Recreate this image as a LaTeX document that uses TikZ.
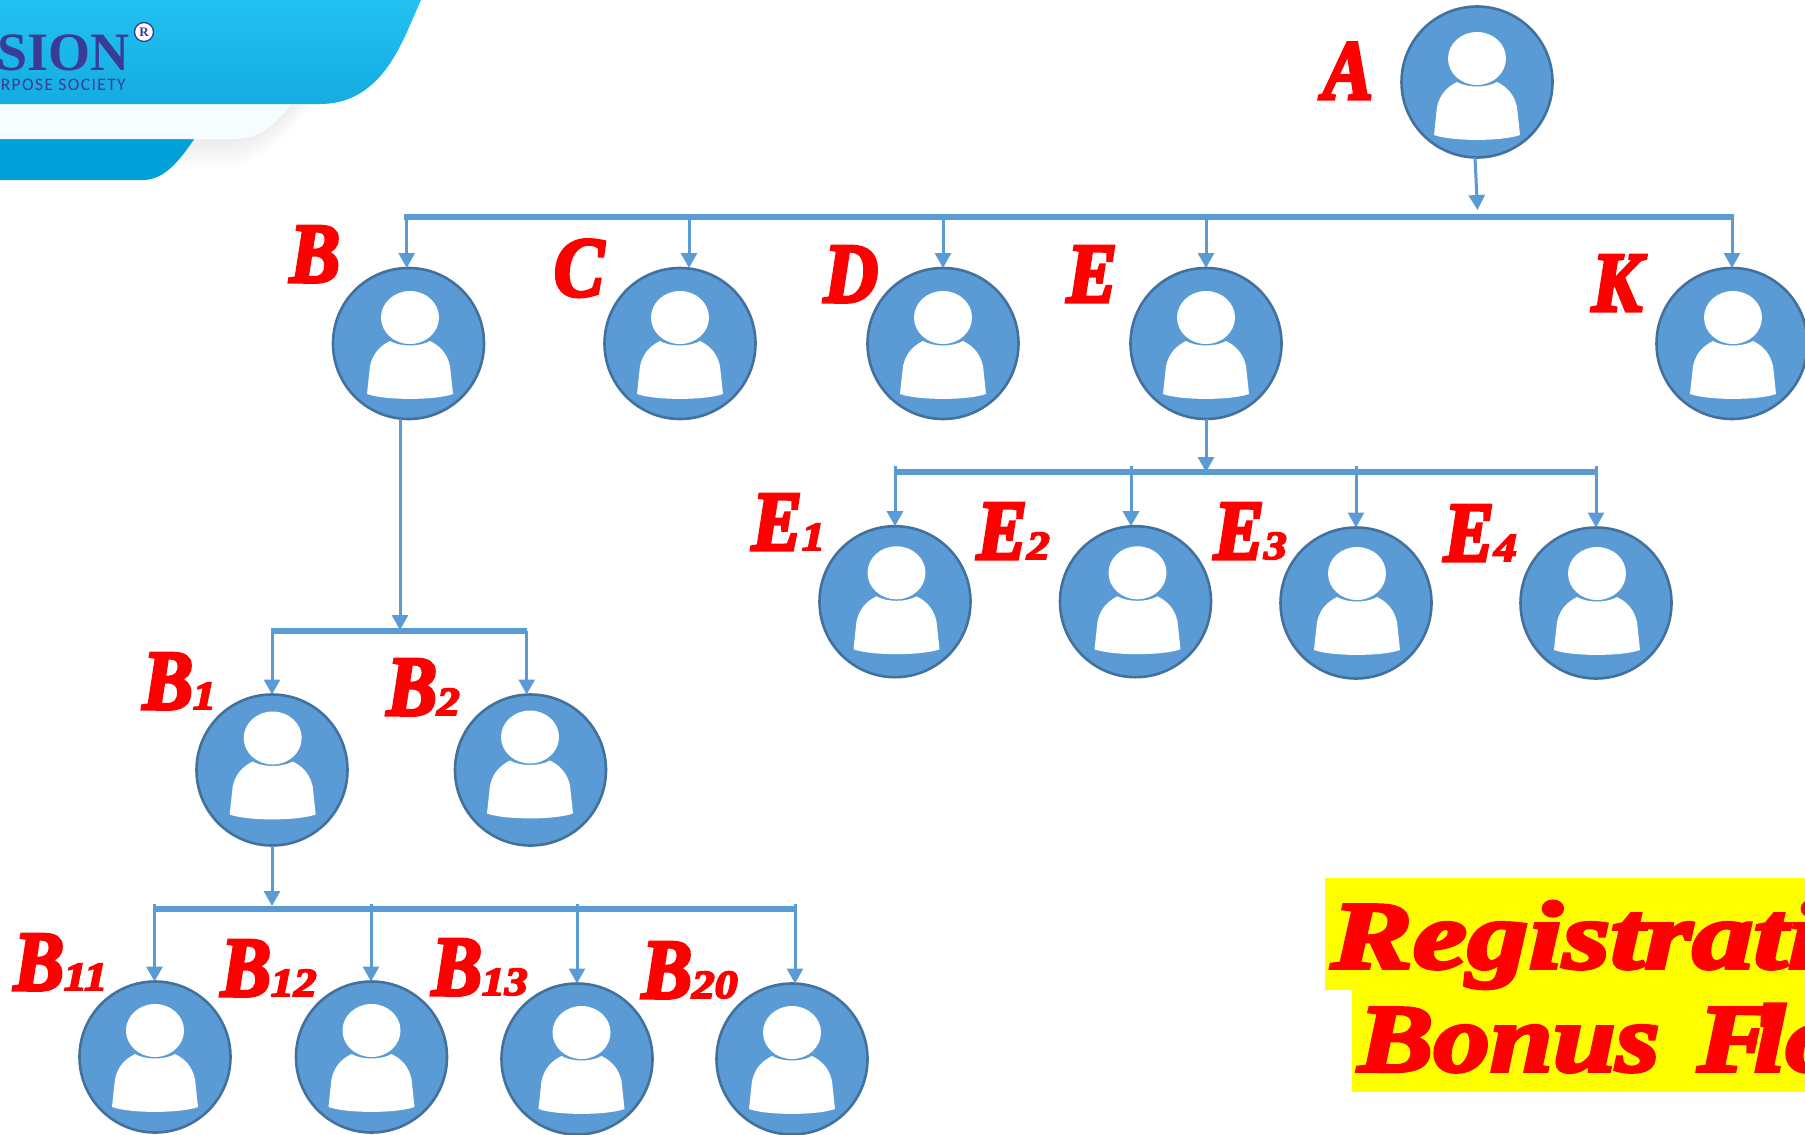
\documentclass[tikz,border=0pt]{standalone}
\usepackage{fontspec}
\usetikzlibrary{arrows.meta,shapes.geometric}
\newfontfamily\lblfont[BoldItalicFont={Liberation Serif Bold Italic},BoldItalicFeatures={FakeBold=4,FakeStretch=0.88}]{Liberation Serif}
\newfontfamily\ttlfont[BoldItalicFont={Liberation Serif Bold Italic},BoldItalicFeatures={FakeBold=4,FakeStretch=1.24}]{Liberation Serif}
\newfontfamily\logofont{Liberation Serif}
\newfontfamily\tagfont{Carlito}
\definecolor{pfill}{HTML}{5B9BD5}
\definecolor{pedge}{HTML}{41719C}
\definecolor{logoblue}{HTML}{3B3A94}
\definecolor{ttlyellow}{HTML}{FFFF00}
\definecolor{lblred}{HTML}{FF0000}
\newcommand{\Lb}[2]{{\fontsize{85}{85}\selectfont\lblfont\bfseries\itshape #1{\fontsize{40}{40}\selectfont\scalebox{1.3}[1]{#2}}}}
\tikzset{
  personnode/.style={circle,draw=pedge,fill=pfill,line width=2.6pt,minimum size=151pt,inner sep=0pt,outer sep=0pt},
  arr/.style={draw=pfill,line width=3pt,-{Triangle[width=16pt,length=15pt]},shorten >=0pt},
  bar/.style={draw=pfill,line width=6pt},
  lbl/.style={text=lblred,anchor=base west,inner sep=0pt,outer sep=0pt},
  ttl/.style={text=lblred,anchor=base west,inner sep=0pt,outer sep=0pt,font={\fontsize{96}{96}\selectfont\ttlfont\bfseries\itshape}}
}
% name, x, y, icon dx, icon dy
\newcommand{\person}[5]{%
  \node[personnode] (#1) at (#2,#3) {};
  \begin{scope}[shift={(#2+#4,#3+#5)}]
    \fill[white] (0,-23.5) ellipse [x radius=29,y radius=26.5];
    \fill[white] (-43,53) -- (-40,25) .. controls (-37,12) and (-30,5) .. (-20,0)
      .. controls (-10,6) and (10,6) .. (20,0)
      .. controls (30,5) and (37,12) .. (40,25) -- (43,53)
      .. controls (25,59.5) and (-25,59.5) .. (-43,53) -- cycle;
  \end{scope}}
\begin{document}
\begin{tikzpicture}[x=1pt,y=-1pt]
\useasboundingbox (0,0) rectangle (1805,1135);
\clip (0,0) rectangle (1805,1135);
% logo
\fill[white] (0,0) rectangle (1805,1135);
\foreach \dd in {0,3,...,27}{
  \fill[black,opacity=0.008] (100,120) -- (293+\dd*0.7,104) .. controls (270+\dd*0.7,130+\dd*0.4) and (250,139+\dd) .. (230,139+\dd*1.1) -- (150,139+\dd*1.1) -- cycle;
}
\fill[color={rgb,255:red,0;green,160;blue,216}] (0,135) -- (197,135) .. controls (180,160) and (165,180) .. (143,180) -- (0,180) -- cycle;
\fill[color={rgb,255:red,245;green,253;blue,255}] (0,100) -- (295,100) .. controls (275,125) and (260,139) .. (235,139) -- (0,139) -- cycle;
\shade[top color={rgb,255:red,34;green,193;blue,241},bottom color={rgb,255:red,20;green,172;blue,226}]
  (0,0) -- (421,0) -- (410,25) .. controls (395,60) and (372,104) .. (320,104) -- (0,104) -- cycle;
\node[anchor=base east,inner sep=0pt,text=logoblue,font={\fontsize{54}{54}\selectfont\logofont\bfseries}] (logo) at (130,70) {SION};
\node[anchor=base east,inner sep=0pt,text=logoblue,font={\fontsize{17.5}{17.5}\selectfont\tagfont}] (tag) at (126,90) {\addfontfeatures{LetterSpace=8}RPOSE SOCIETY};
\node[circle,draw=logoblue,fill=white,line width=1.3pt,minimum size=19pt,inner sep=0pt,text=logoblue,font={\fontsize{13}{13}\selectfont\logofont\bfseries}] (reg) at (144,32) {R};
% people
\person{A}{1477}{82}{0}{0}
\person{B}{408.5}{343.5}{1.5}{-2.5}
\person{C}{680}{343.5}{0}{-2.5}
\person{D}{943}{343.5}{0}{-2.5}
\person{E}{1206}{343.5}{0}{-2.5}
\person{K}{1732}{343.5}{1}{-2.5}
\person{Ea}{895}{601.7}{1.5}{-5.4}
\person{Eb}{1135.5}{601.7}{2}{-5.4}
\person{Ec}{1356}{603}{1}{-6}
\person{Ed}{1596}{603}{1}{-6}
\person{Ba}{272}{770}{0.7}{-8.5}
\person{Bb}{530.5}{770}{-0.5}{-9.5}
\person{Baa}{155}{1057}{0}{-3}
\person{Bab}{371.5}{1057}{0}{-3}
\person{Bac}{577}{1059}{4.5}{-3}
\person{Bad}{792}{1059}{0}{-3}
% bars
\coordinate (t1) at (404,217); \coordinate (t2) at (1734,217);
\coordinate (e1) at (894,472); \coordinate (e2) at (1597,472);
\coordinate (b1) at (271,631); \coordinate (b2) at (527,631);
\coordinate (c1) at (153,909); \coordinate (c2) at (796,909);
\draw[bar] (t1) -- (t2);
\draw[bar] (e1) -- (e2);
\draw[bar] (b1) -- (b2);
\draw[bar] (c1) -- (c2);
% feeders
\coordinate (af) at (1477.5,210);
\draw[arr] ([xshift=-2pt]A.south) -- (af);
\coordinate (bf) at (400,630);
\draw[arr] (bf |- B.south) -- (bf);
\coordinate (ef) at (1206,472);
\draw[arr] (E.south) -- (ef);
\coordinate (baf) at (272,906);
\draw[arr] (Ba.south) -- (baf);
% drops
\foreach \n/\x/\yt in {B/406.7/217,C/689/217,D/943/217,E/1206/217,K/1732/217,
  Ea/895/466,Eb/1131/466,Ec/1356/466,Ed/1596/466,
  Ba/272/631,Bb/526.7/631,
  Baa/154.5/904,Bab/371/904,Bac/577/904,Bad/795/904}{
  \coordinate (s\n) at (\x,\yt);
  \draw[arr] (s\n) -- (s\n |- \n.north);
}
% labels
\node[lbl] (lA) at (1323,99) {\Lb{A}{}};
\node[lbl] (lB) at (290,282) {\Lb{B}{}};
\node[lbl] (lC) at (554,296) {\Lb{C}{}};
\node[lbl] (lD) at (824,302) {\Lb{D}{}};
\node[lbl] (lE) at (1067,302) {\Lb{E}{}};
\node[lbl] (lK) at (1592,311) {\Lb{K}{}};
\node[lbl] (lEa) at (752,550) {\Lb{E}{1}};
\node[lbl] (lEb) at (977,559) {\Lb{E}{2}};
\node[lbl] (lEc) at (1214,559) {\Lb{E}{3}};
\node[lbl] (lEd) at (1444,561) {\Lb{E}{4}};
\node[lbl] (lBa) at (143,709) {\Lb{B}{1}};
\node[lbl] (lBb) at (387,715) {\Lb{B}{2}};
\node[lbl] (lBaa) at (14,990) {\Lb{B}{11}};
\node[lbl] (lBab) at (221,996) {\Lb{B}{12}};
\node[lbl] (lBac) at (432,995) {\Lb{B}{13}};
\node[lbl] (lBad) at (642,998) {\Lb{B}{20}};
% title
\fill[ttlyellow] (1325,878) rectangle (1805,990);
\fill[ttlyellow] (1352,990) rectangle (1805,1092);
\node[ttl] (t1n) at (1331,968) {\scalebox{1.03}[1]{Registrati}};
\node[ttl] (t2n) at (1358,1071) {\scalebox{0.95}[1]{Bonus\hspace{10pt} F\kern-20pt lo}};
\end{tikzpicture}
\end{document}
